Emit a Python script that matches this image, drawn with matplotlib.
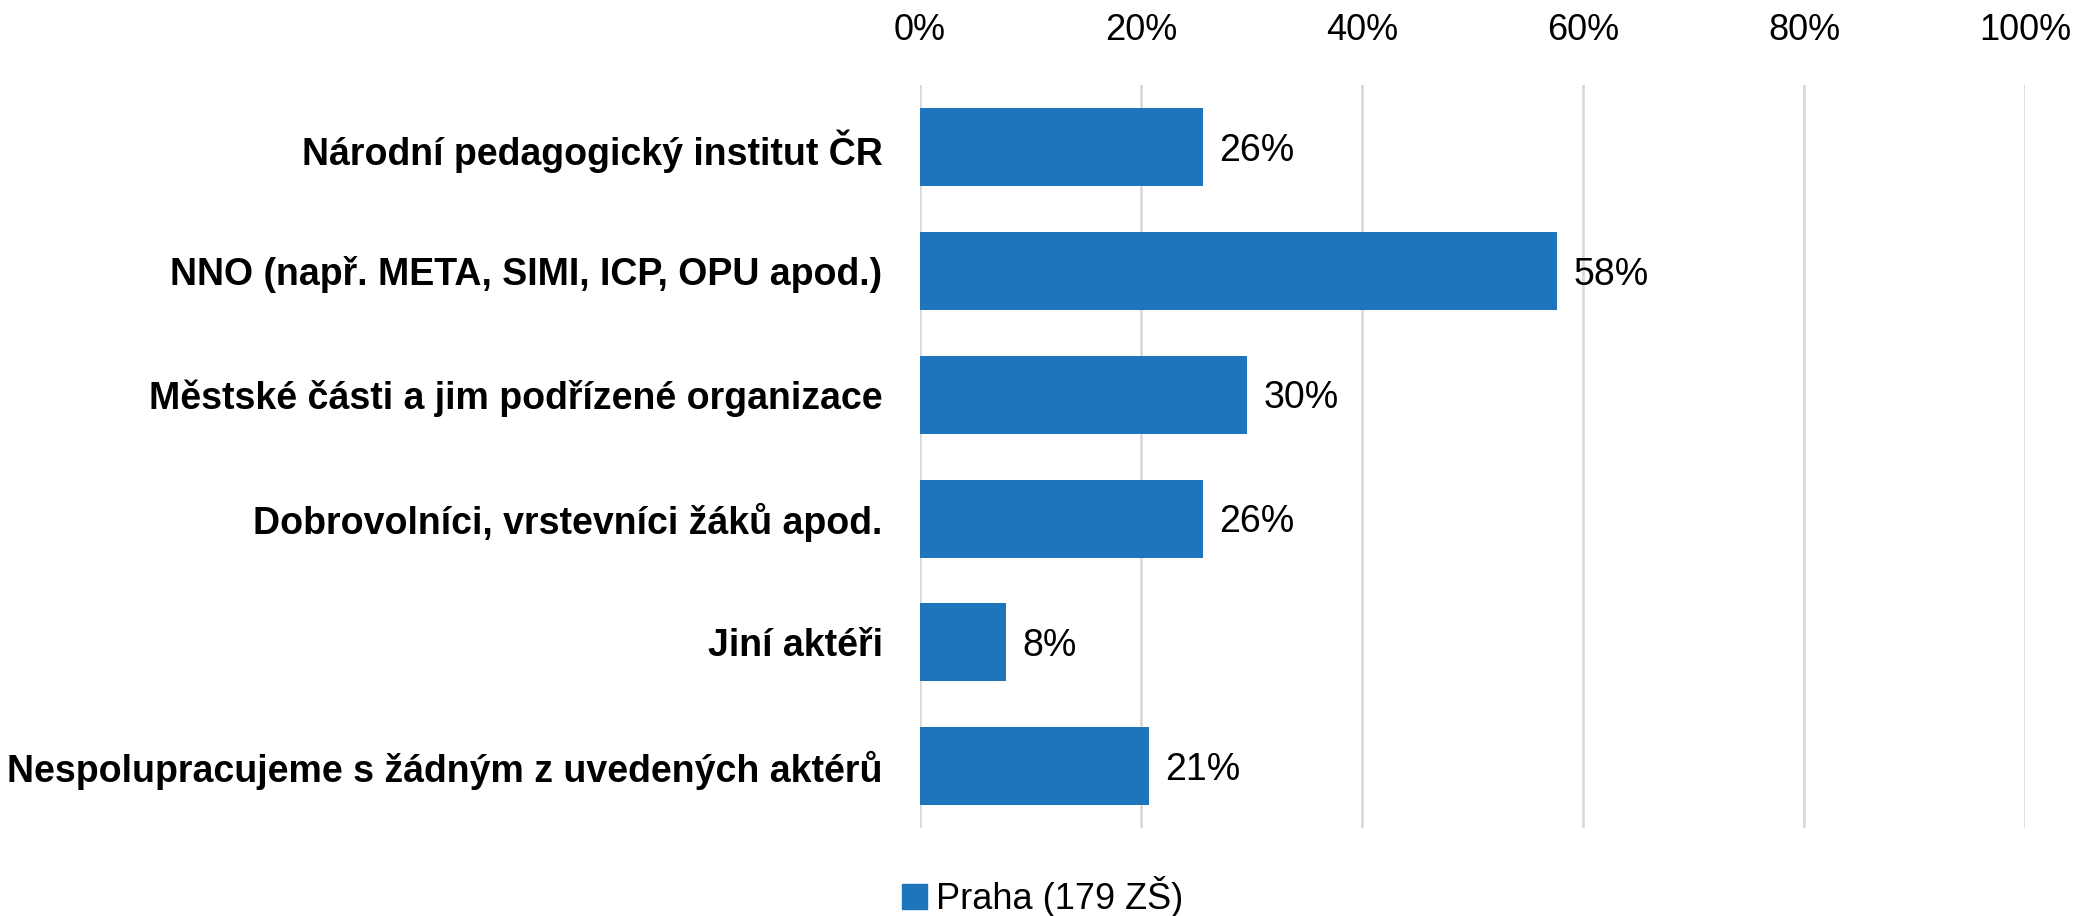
import matplotlib
matplotlib.use("Agg")
import matplotlib.pyplot as plt
from matplotlib.ticker import FuncFormatter
from matplotlib.patches import Patch

plt.rcParams['font.family'] = ['Liberation Sans', 'DejaVu Sans']

# data
categories = [
    "Národní pedagogický institut ČR",
    "NNO (např. META, SIMI, ICP, OPU apod.)",
    "Městské části a jim podřízené organizace",
    "Dobrovolníci, vrstevníci žáků apod.",
    "Jiní aktéři",
    "Nespolupracujeme s žádným z uvedených aktérů",
]
values = [25.6, 57.6, 29.6, 25.6, 7.8, 20.7]
series_name = "Praha (179 ZŠ)"
bar_color = "#1E75BC"

fig = plt.figure(figsize=(20.77, 9.16), dpi=100)
ax = fig.add_axes([0.443, 0.096, 0.532, 0.811])

ypos = list(range(len(categories)))
ax.barh(ypos, values, height=0.63, color=bar_color, zorder=3)
ax.set_ylim(len(categories) - 0.5, -0.5)
ax.set_xlim(0, 100)
ax.set_yticks(ypos)
ax.set_yticklabels(categories, fontsize=27, fontweight='bold')
ax.set_xticks([0, 20, 40, 60, 80, 100])
ax.xaxis.set_major_formatter(FuncFormatter(lambda v, p: f"{v:.0f}%"))
ax.xaxis.tick_top()
ax.tick_params(axis='x', length=0, pad=27, labelsize=26)
ax.tick_params(axis='y', length=0, pad=27)
ax.grid(axis='x', color='#d9d9d9', linewidth=2, zorder=0)
for s in ax.spines.values():
    s.set_visible(False)

# value labels
for y, v in zip(ypos, values):
    ax.text(v + 1.5, y + 0.03, f"{round(v):.0f}%", va='center', ha='left', fontsize=27)

leg = fig.legend(handles=[Patch(color=bar_color, label=series_name)],
                 loc='center', bbox_to_anchor=(0.502, 0.021), frameon=False,
                 fontsize=26, handlelength=0.7, handleheight=0.7, handletextpad=0.25)

fig.savefig("out.png", dpi=100)
